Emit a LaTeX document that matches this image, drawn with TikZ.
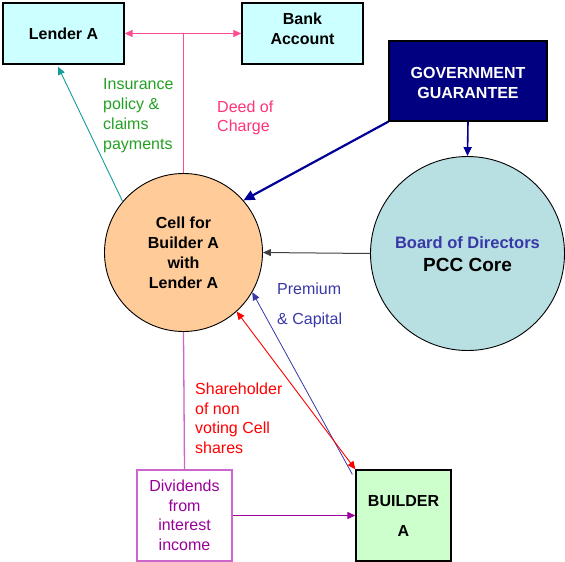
\documentclass[tikz,border=0pt]{standalone}
\usepackage{fontspec}
\setmainfont{Liberation Sans}
\usetikzlibrary{arrows.meta}

\definecolor{boxcyan}{HTML}{CCFFFF}
\definecolor{cellorange}{HTML}{FFCC99}
\definecolor{boardteal}{HTML}{B8DFE1}
\definecolor{govnavy}{HTML}{000080}
\definecolor{buildergreen}{HTML}{CCFFCC}
\definecolor{chargepink}{HTML}{FF4D94}
\definecolor{chargetext}{HTML}{FF3377}
\definecolor{policygreen}{HTML}{22A022}
\definecolor{lenderteal}{HTML}{139C9C}
\definecolor{premiumblue}{HTML}{3838A8}
\definecolor{guaranteeblue}{HTML}{000099}
\definecolor{divline}{HTML}{CC66CC}
\definecolor{divtext}{HTML}{990099}

\tikzset{
  txt/.style={font=\fontsize{16}{20}\selectfont, inner sep=0pt, align=left, anchor=west},
  rectbox/.style={draw=black, line width=1.3pt, align=center,
    font=\fontsize{16}{20}\selectfont\bfseries, inner sep=0pt},
  boxtext/.style={align=center, font=\fontsize{16}{20}\selectfont\bfseries, inner sep=0pt},
  roundbox/.style={circle, draw=black, line width=0.9pt, align=center, inner sep=0pt},
  tip/.style={-{Triangle[length=8pt,width=7pt]}},
  twotips/.style={{Triangle[length=8pt,width=7pt]}-{Triangle[length=8pt,width=7pt]}},
}

\begin{document}
\begin{tikzpicture}[x=1pt,y=-1pt]
\useasboundingbox (0,0) rectangle (565,562);

% boxes
\node[rectbox, fill=boxcyan, minimum width=121pt, minimum height=61pt] (lender) at (63.5,33.5) {Lender A};
\node[rectbox, fill=boxcyan, minimum width=121pt, minimum height=61pt] (bank) at (302.5,33.5) {};
\node[boxtext] (banktext) at ([yshift=5pt]bank.center) {Bank\\Account};
\node[rectbox, fill=govnavy, text=white, minimum width=158pt, minimum height=80pt] (gov) at (468,81) {};
\node[boxtext, text=white] (govtext) at ([yshift=-1.5pt]gov.center) {GOVERNMENT\\GUARANTEE};
\node[rectbox, fill=buildergreen, minimum width=95pt, minimum height=91pt,
      font=\fontsize{16}{30}\selectfont\bfseries] (builder) at (403.5,515.5) {BUILDER\\A};
\node[draw=divline, line width=1.3pt, fill=white, minimum width=95pt, minimum height=91pt,
      inner sep=0pt, align=center, text=divtext, font=\fontsize{16}{19.5}\selectfont] (div) at (184.5,515.5)
      {Dividends\\from\\interest\\income};

% circles
\node[roundbox, fill=cellorange, minimum size=158pt,
      font=\fontsize{16}{20}\selectfont\bfseries] (cell) at (183.5,252.5) {Cell for\\Builder A\\with\\Lender A};
\node[roundbox, fill=boardteal, minimum size=194pt] (board) at (467.5,253.5) {};
\node[boxtext, text=premiumblue, font=\fontsize{16.5}{20}\selectfont\bfseries] (boardtitle) at (467.5,243) {Board of Directors};
\node[boxtext, font=\fontsize{19}{20}\selectfont\bfseries] (boardcore) at (467.5,265) {PCC Core};

% labels
\node[txt, text=policygreen] (policy) at (103,116) {Insurance\\policy \&\\claims\\payments};
\node[txt, text=chargetext, font=\fontsize{16}{19.5}\selectfont] (charge) at (217,118) {Deed of\\Charge};
\node[txt, text=premiumblue, font=\fontsize{16}{30}\selectfont] (premium) at (277,305) {Premium\\\& Capital};
\node[txt, text=red, font=\fontsize{16}{19.5}\selectfont] (share) at (195,418.5) {Shareholder\\of non\\voting Cell\\shares};

% connectors
\coordinate (chargejoin) at (cell.north |- lender.east);
\draw[chargepink, line width=1.2pt, twotips] (lender.east) -- (bank.west);
\draw[chargepink, line width=1.2pt] (cell.north) -- (chargejoin);
\draw[lenderteal, line width=0.9pt, tip] (cell.140) -- ([xshift=-5.5pt,yshift=-2pt]lender.south);
\draw[guaranteeblue, line width=2.2pt, -{Triangle[length=11pt,width=10pt]}] (gov.south west) -- (cell.41);
\draw[guaranteeblue, line width=1.6pt, -{Triangle[length=9pt,width=8pt]}] (gov.south) -- (board.north);
\draw[black!75, line width=1pt, tip] (board.west) -- (cell.east);
\draw[premiumblue, line width=0.8pt, tip] ([xshift=-3pt,yshift=-5pt]builder.north west) -- (cell.-30);
\draw[red, line width=0.9pt, twotips] (cell.-48.5) -- (builder.north west);
\draw[divline, line width=1.3pt] (cell.south) -- (div.north);
\draw[divtext, line width=1.2pt, tip] (div.east) -- (builder.west);
\end{tikzpicture}
\end{document}
